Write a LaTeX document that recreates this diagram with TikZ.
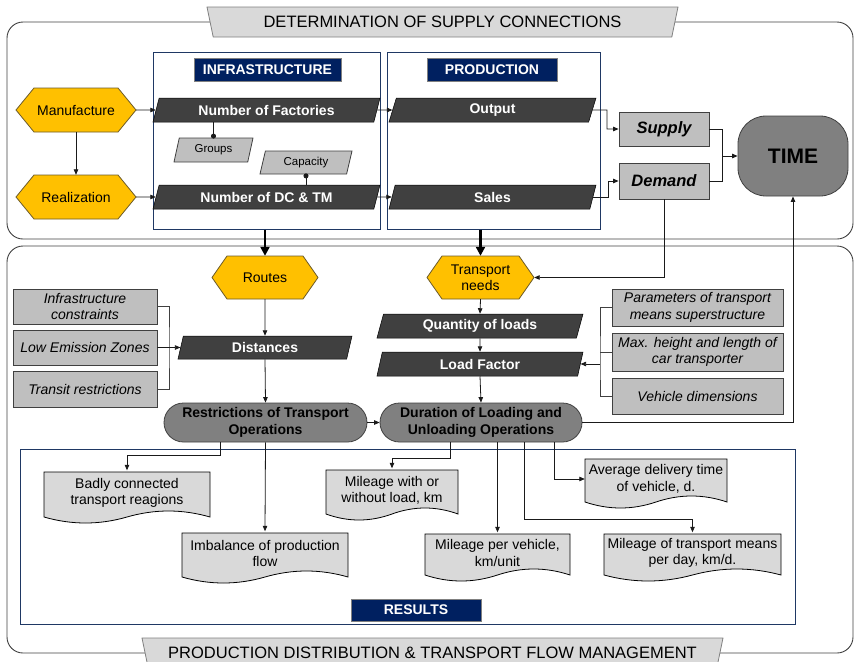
\documentclass[tikz,border=0pt]{standalone}
\usepackage{fontspec}
\setmainfont{Liberation Sans}
\usetikzlibrary{arrows.meta,shapes.geometric}

\definecolor{hexyellow}{HTML}{FFC000}
\definecolor{hexline}{HTML}{6B5A2A}
\definecolor{darkfill}{HTML}{404040}
\definecolor{midgray}{HTML}{BFBFBF}
\definecolor{lightgraytwo}{HTML}{D9D9D9}
\definecolor{stadgray}{HTML}{808080}
\definecolor{navy}{HTML}{002060}
\definecolor{framblue}{HTML}{1F3864}
\definecolor{lineg}{HTML}{1A1A1A}
\definecolor{framegray}{HTML}{404040}

% hexagon: name, x, y, width, height, tip offset, text
\newcommand\hexnode[7]{%
  \filldraw[hexshape] (#2-#4/2,#3) -- (#2-#4/2+#6,#3-#5/2) -- (#2+#4/2-#6,#3-#5/2) -- (#2+#4/2,#3)
     -- (#2+#4/2-#6,#3+#5/2) -- (#2-#4/2+#6,#3+#5/2) -- cycle;
  \node[hextext, minimum width=#4pt, minimum height=#5pt] (#1) at (#2,#3) {#7};
}
% document: name, left, top, width, side height, text
\newcommand\docnode[6]{%
  \filldraw[docshape] (#2,#3) -- (#2+#4,#3) -- (#2+#4,#3+#5)
     .. controls (#2+#4*5/6,#3+#5-8) and (#2+#4*4/6,#3+#5-8) .. (#2+#4/2,#3+#5)
     .. controls (#2+#4*2/6,#3+#5+8) and (#2+#4/6,#3+#5+8) .. (#2,#3+#5) -- cycle;
  \node[doctext, minimum width=#4pt, minimum height=#5pt] (#1) at (#2+#4/2,#3+#5/2-1.5) {#6};
}

\begin{document}
\begin{tikzpicture}[x=1pt,y=-1pt,
  every node/.style={font=\fontsize{14}{16.5}\selectfont, align=center, inner sep=2pt},
  con/.style={draw=lineg, line width=0.8pt, -{Triangle[length=5.5pt,width=4.5pt]}},
  plain/.style={draw=lineg, line width=0.8pt},
  bracketline/.style={draw=darkfill, line width=0.8pt},
  dotcon/.style={draw=lineg, line width=0.8pt, -{Circle[length=5pt,width=5pt]}},
  bigarr/.style={draw=black, line width=2.2pt, -{Triangle[length=9pt,width=9pt]}},
  outerframe/.style={draw=framegray, line width=0.9pt, rounded corners=16pt},
  banner/.style={trapezium, trapezium left angle=118, trapezium right angle=118,
     trapezium stretches body=true, fill=lightgraytwo, draw=stadgray, line width=0.8pt,
     font=\fontsize{16.5}{19}\selectfont, minimum height=30pt, inner sep=0pt},
  frame/.style={rectangle, draw=framblue, line width=1pt, inner sep=0pt},
  navylab/.style={rectangle, fill=navy, draw=black!50, line width=0.6pt, text=white,
     font=\bfseries\fontsize{14}{16.5}\selectfont, minimum height=23pt, inner sep=0pt},
  hextext/.style={rectangle, inner sep=0pt},
  hexshape/.style={fill=hexyellow, draw=hexline, line width=0.8pt},
  darkpar/.style={trapezium, trapezium left angle=63.4, trapezium right angle=116.6,
     trapezium stretches body=true, fill=darkfill, draw=black, line width=0.5pt, text=white,
     font=\bfseries\fontsize{14}{16.5}\selectfont, minimum height=24pt, inner sep=1pt},
  steeppar/.style={trapezium left angle=66.5, trapezium right angle=113.5},
  lightpar/.style={trapezium, trapezium left angle=67, trapezium right angle=113,
     trapezium stretches body=true, fill=midgray, draw=darkfill, line width=0.8pt,
     font=\fontsize{11.5}{13}\selectfont, minimum height=24pt, inner sep=1pt},
  graybox/.style={rectangle, fill=midgray, draw=darkfill, line width=0.8pt,
     font=\itshape\fontsize{14}{16.5}\selectfont, inner sep=1pt},
  sdbox/.style={rectangle, fill=midgray, draw=darkfill, line width=0.8pt,
     font=\bfseries\itshape\fontsize{16.5}{19}\selectfont, minimum width=90pt},
  stad/.style={rectangle, rounded corners=19.5pt, fill=stadgray, draw=darkfill, line width=0.8pt,
     font=\bfseries\fontsize{14}{16.5}\selectfont, minimum height=39pt, inner sep=1pt},
  docshape/.style={fill=lightgraytwo, draw=black, line width=0.8pt},
  doctext/.style={rectangle, inner sep=1pt},
]
\useasboundingbox (0,0) rectangle (855,662);

% outer frames
\draw[outerframe] (7,22) rectangle (853,239);
\draw[outerframe] (7,246) rectangle (853,653);

% banners
\node[banner, minimum width=471pt] (topban) at (442.5,22) {DETERMINATION OF SUPPLY CONNECTIONS};
\node[banner, minimum width=581pt] (botban) at (432.5,653) {PRODUCTION DISTRIBUTION \& TRANSPORT FLOW MANAGEMENT};

% blue frames
\node[frame, minimum width=227pt, minimum height=177pt] (infra) at (266.5,140.5) {};
\node[frame, minimum width=213pt, minimum height=177pt] (prod) at (493.5,140.5) {};
\node[frame, minimum width=775pt, minimum height=175pt] (res) at (407.5,536.5) {};

% labels
\node[navylab, minimum width=147pt] (infralab) at (267.5,69.5) {INFRASTRUCTURE};
\node[navylab, minimum width=130pt] (prodlab) at (492,69.5) {PRODUCTION};
\node[navylab, minimum width=130pt, minimum height=22pt] (reslab) at (416,610) {RESULTS};

% hexagons
\hexnode{manuf}{76}{110}{120}{44}{18}{Manufacture}
\hexnode{real}{76}{197}{120}{44}{18}{Realization}
\hexnode{routes}{265}{277.5}{106}{43}{15}{Routes}
\hexnode{tneeds}{480.5}{277.5}{107}{43}{15}{Transport\\needs}

% dark parallelograms
\node[darkpar, minimum width=227pt] (nf) at (266.5,110) {Number of Factories};
\node[darkpar, minimum width=227pt] (dc) at (266.5,197) {Number of DC \& TM};
\node[darkpar, minimum width=207pt] (out) at (492.5,110) {Output};
\node[darkpar, minimum width=207pt] (sales) at (492.5,197) {Sales};
\node[darkpar, steeppar, minimum width=174pt, minimum height=23pt] (dist) at (265,347.5) {Distances};
\node[darkpar, steeppar, minimum width=206pt] (qty) at (480,326) {Quantity of loads};
\node[darkpar, steeppar, minimum width=206pt] (lf) at (480,364) {Load Factor};

% light parallelograms
\node[lightpar, minimum width=79pt] (groups) at (213.5,150) {Groups};
\node[lightpar, minimum width=92pt, minimum height=23pt] (cap) at (306,162.5) {Capacity};

% supply / demand / time
\node[sdbox, minimum height=34pt] (supply) at (664,129) {Supply};
\node[sdbox, minimum height=36pt] (demand) at (664,181) {Demand};
\node[rectangle, rounded corners=28pt, fill=stadgray, draw=darkfill, line width=0.8pt,
      minimum width=110pt, minimum height=80pt, font=\bfseries\fontsize{21}{24}\selectfont] (time) at (793,156) {TIME};

% constraint boxes
\node[graybox, minimum width=144pt, minimum height=35pt] (ic) at (85,306.5) {Infrastructure\\constraints};
\node[graybox, minimum width=144pt, minimum height=35pt] (lez) at (85,347.5) {Low Emission Zones};
\node[graybox, minimum width=144pt, minimum height=36pt] (tr) at (85,389) {Transit restrictions};
\node[graybox, minimum width=171pt, minimum height=37pt] (ptm) at (697.5,307.5) {Parameters of transport\\means superstructure};
\node[graybox, minimum width=171pt, minimum height=38pt] (mh) at (697.5,352) {Max. height and length of\\car transporter};
\node[graybox, minimum width=171pt, minimum height=36pt] (vd) at (697.5,396) {Vehicle dimensions};

% stadiums
\node[stad, minimum width=203pt] (restr) at (265.5,422.5) {Restrictions of Transport\\Operations};
\node[stad, minimum width=202pt] (dur) at (481,422.5) {Duration of Loading and\\Unloading Operations};

% documents
\docnode{badly}{44}{472}{166}{45}{Badly connected\\transport reagions}
\docnode{imb}{182}{533}{166}{44}{Imbalance of production\\flow}
\docnode{mwo}{326}{470}{132}{44}{Mileage with or\\without load, km}
\docnode{avg}{585}{459}{142}{43}{Average delivery time\\of vehicle, d.}
\docnode{mpv}{425}{534}{145}{41}{Mileage per vehicle,\\km/unit}
\docnode{mtm}{604}{534}{177}{41}{Mileage of transport means\\per day, km/d.}

% ---------- connectors ----------
\draw[con] (manuf.east) -- (nf.west);
\draw[con] (real.east) -- (dc.west);
\draw[con] (manuf.south) -- (real.north);
\draw[con] (nf.east) -- (out.west);
\draw[con] (dc.east) -- (sales.west);
\draw[dotcon] (nf.south -| groups.north) -- ([yshift=-1pt]groups.north);
\draw[dotcon] (dc.north -| cap.south) -- ([yshift=1pt]cap.south);

\coordinate (ob) at (607,110);
\coordinate (sb) at (608,197);
\draw[con] (out.east) -- (ob) |- (supply.west);
\draw[con] (sales.east) -- (sb) |- (demand.west);
\coordinate (tj) at (722,156);
\draw[plain] (supply.east) -| (tj);
\draw[plain] (demand.east) -| (tj);
\draw[con] (tj) -- (time.west);

\draw[con] (demand.south) |- (tneeds.east);
\draw[con] (dur.east) -| (time.south);

\draw[bigarr] (infra.south -| routes.north) -- (routes.north);
\draw[bigarr] (prod.south -| tneeds.north) -- (tneeds.north);

\draw[con] (routes.south) -- (dist.north);
\draw[con] (dist.south) -- (restr.north);
\coordinate (lb) at (169,347.5);
\draw[bracketline] (ic.east) -| (lb) |- (tr.east);
\draw[con] (lez.east) -- (dist.west);

\draw[con] (tneeds.south) -- (qty.north);
\draw[con] (qty.south) -- (lf.north);
\draw[con] (lf.south) -- (dur.north);
\coordinate (rb) at (600,364);
\draw[bracketline] (ptm.west) -| (rb) |- (vd.west);
\draw[bracketline] (mh.west) -- (mh.west -| rb);
\draw[con] (rb) -- (lf.east);

\draw[con] (restr.east) -- (dur.west);

\draw[con] ([xshift=-45.5pt]restr.south) -- ++(0,13) -| (badly.north);
\draw[con] (restr.south) -- (imb.north);
\draw[con] ([xshift=-31pt]dur.south) -- ++(0,16) -| (mwo.north);
\draw[con] (mpv.north |- dur.south) -- (mpv.north);
\draw[con] ([xshift=43pt]dur.south) -- ++(0,77) -| (mtm.north);
\draw[con] ([xshift=73pt]dur.south) |- (avg.west);
\end{tikzpicture}
\end{document}
